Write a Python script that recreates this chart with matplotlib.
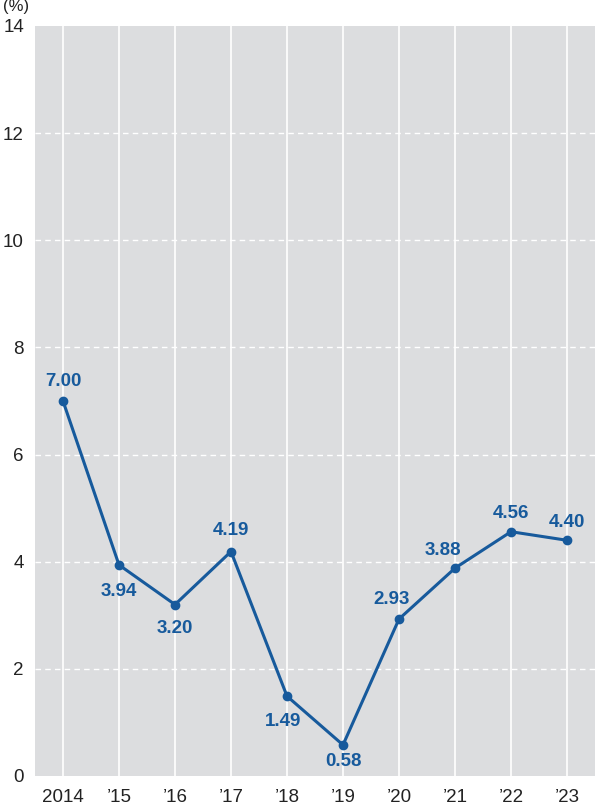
import matplotlib.pyplot as plt

plt.rcParams['font.family'] = ['Liberation Sans', 'DejaVu Sans']

years = ['2014', '’15', '’16', '’17', '’18', '’19', '’20', '’21', '’22', '’23']
rates = [7.00, 3.94, 3.20, 4.19, 1.49, 0.58, 2.93, 3.88, 4.56, 4.40]
# label offsets in points (dx, dy)
offs = [(0, 14), (0, -19), (0, -17), (0, 15), (-3, -18), (0, -12), (-5, 14), (-9, 13), (0, 13), (0, 13)]

blue = '#175a9c'

fig = plt.figure(figsize=(5.95, 8.11), dpi=100)
ax = fig.add_axes([35/595, 35/811, 560/595, 750/811])
ax.set_facecolor('#dcdddf')

x = list(range(len(years)))
for xi in x:
    ax.axvline(xi, color='white', lw=1.2, zorder=1)
for yv in range(2, 14, 2):
    ax.axhline(yv, color='white', lw=1.0, ls=(0, (4, 3)), zorder=1)

ax.plot(x, rates, color=blue, lw=2.2, marker='o', ms=6, zorder=3)
for xi, v, (dx, dy) in zip(x, rates, offs):
    ax.annotate(f'{v:.2f}', (xi, v), xytext=(dx, dy), textcoords='offset points',
                ha='center', va='center', color=blue, fontsize=13.5, fontweight='bold')

ax.set_xlim(-0.5, 9.5)
ax.set_ylim(0, 14)
ax.set_yticks(range(0, 15, 2))
ax.set_xticks(x)
ax.set_xticklabels(years)
ax.tick_params(length=0, labelsize=13.5, colors='#222222')
ax.tick_params(axis='y', pad=8)
ax.tick_params(axis='x', pad=9)
for s in ax.spines.values():
    s.set_visible(False)

fig.text(3/595, 1 - 6/811, '(%)', fontsize=12, color='#222222', va='center', ha='left')

fig.savefig('out.png', dpi=100)
